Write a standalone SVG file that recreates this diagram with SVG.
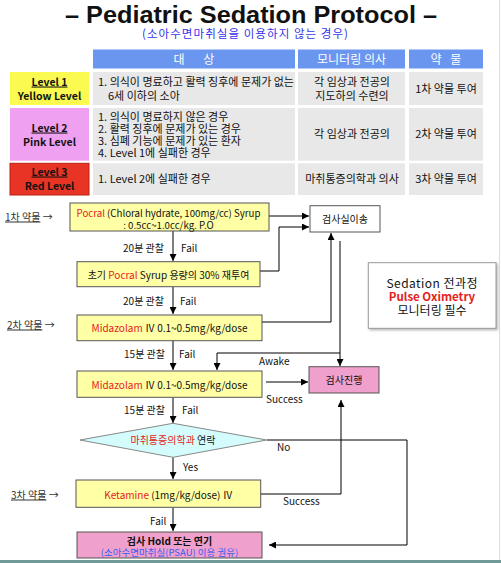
<svg xmlns="http://www.w3.org/2000/svg" width="501" height="563" viewBox="0 0 501 563">
<defs>
<marker id="ah" viewBox="0 0 8 8" refX="8" refY="4" markerWidth="7" markerHeight="7" markerUnits="userSpaceOnUse" orient="auto">
<path d="M0,0 L8,4 L0,8 Z" fill="#000"/>
</marker>
<filter id="sh" x="-5%" y="-5%" width="115%" height="120%">
<feDropShadow dx="1.5" dy="1.5" stdDeviation="1" flood-color="#888" flood-opacity="0.6"/>
</filter>
</defs>
<style>
text{font-family:'Noto Sans CJK KR','Noto Sans',sans-serif;fill:#111;}
.t{font-size:11px;}
.c{text-anchor:middle;}
.hd{font-size:12px;fill:#fff;text-anchor:middle;}
.lv{font-size:10.5px;font-weight:bold;text-anchor:middle;}
.u{text-decoration:underline;}
.cell{fill:#e8e8e8;}
.hdr{fill:#6a96f0;}
.box{fill:#ffffa6;stroke:#555;stroke-width:1;}
.pk{fill:#f0a0cc;stroke:#555;stroke-width:1;}
.lb{font-size:10px;}
.side{font-size:10px;fill:#333;}
.conn path{fill:none;stroke:#000;stroke-width:1;marker-end:url(#ah);}
</style>
<rect x="0" y="0" width="501" height="563" fill="#fff"/>
<line x1="499.5" y1="0" x2="499.5" y2="560" stroke="#dddddd" stroke-width="1"/>
<rect x="0" y="560" width="501" height="3" fill="#6f9a98"/>

<g id="title">
<text x="251" y="22.5" text-anchor="middle" style="font-family:'Liberation Sans',Arial,sans-serif;font-size:24px;font-weight:bold;" textLength="372" lengthAdjust="spacingAndGlyphs">– Pediatric Sedation Protocol –</text>
<text x="245" y="37.5" text-anchor="middle" style="font-size:11.5px;fill:#3434e8;" textLength="206" lengthAdjust="spacing">(소아수면마취실을 이용하지 않는 경우)</text>
</g>

<g id="table">
<rect class="hdr" x="93" y="49.5" width="202" height="19"/>
<rect class="hdr" x="298" y="49.5" width="107" height="19"/>
<rect class="hdr" x="409" y="49.5" width="74" height="19"/>
<text class="hd" x="194" y="63.5" style="word-spacing:16px;">대 상</text>
<text class="hd" x="351.5" y="63.5">모니터링 의사</text>
<text class="hd" x="446" y="63.5" style="word-spacing:6px;">약 물</text>

<g id="level1">
<rect x="10" y="72" width="79" height="33" fill="#fafa50"/>
<text class="lv u" x="49.5" y="85.5">Level 1</text>
<text class="lv" x="49.5" y="99.5">Yellow Level</text>
<rect class="cell" x="93" y="72" width="202" height="33"/>
<text class="t" x="98" y="85.5">1. 의식이 명료하고 활력 징후에 문제가 없는</text>
<text class="t" x="108" y="99.5">6세 이하의 소아</text>
<rect class="cell" x="298" y="72" width="107" height="33"/>
<text class="t c" x="352" y="85.5">각 임상과 전공의</text>
<text class="t c" x="352" y="99.5">지도하의 수련의</text>
<rect class="cell" x="409" y="72" width="74" height="33"/>
<text class="t c" x="446" y="92.5">1차 약물 투여</text>
</g>

<g id="level2">
<rect x="10" y="108" width="79" height="52.7" fill="#f0a0f0"/>
<text class="lv u" x="49.5" y="131.5">Level 2</text>
<text class="lv" x="49.5" y="145.5">Pink Level</text>
<rect class="cell" x="93" y="108" width="202" height="52.7"/>
<text class="t" x="98" y="121">1. 의식이 명료하지 않은 경우</text>
<text class="t" x="98" y="133">2. 활력 징후에 문제가 있는 경우</text>
<text class="t" x="98" y="145">3. 심폐 기능에 문제가 있는 환자</text>
<text class="t" x="98" y="157">4. Level 1에 실패한 경우</text>
<rect class="cell" x="298" y="108" width="107" height="52.7"/>
<text class="t c" x="352" y="138">각 임상과 전공의</text>
<rect class="cell" x="409" y="108" width="74" height="52.7"/>
<text class="t c" x="446" y="138">2차 약물 투여</text>
</g>

<g id="level3">
<rect x="10" y="163.3" width="79" height="31.7" fill="#e83424" stroke="#b82010" stroke-width="1"/>
<text class="lv u" x="49.5" y="175.5">Level 3</text>
<text class="lv" x="49.5" y="189.5">Red Level</text>
<rect class="cell" x="93" y="163.3" width="202" height="31.7"/>
<text class="t" x="98" y="182.5">1. Level 2에 실패한 경우</text>
<rect class="cell" x="298" y="163.3" width="107" height="31.7"/>
<text class="t c" x="352" y="182.5">마취통증의학과 의사</text>
<rect class="cell" x="409" y="163.3" width="74" height="31.7"/>
<text class="t c" x="446" y="182.5">3차 약물 투여</text>
</g>
</g>

<g id="side-labels">
<text class="side" x="5" y="220.5"><tspan class="u">1차 약물</tspan> →</text>
<text class="side" x="7" y="328.5"><tspan class="u">2차 약물</tspan> →</text>
<text class="side" x="11" y="498.5"><tspan class="u">3차 약물</tspan> →</text>
</g>

<g class="conn" id="connectors">
<path d="M173 231 V261"/>
<path d="M269 216 H309"/>
<path d="M260 271 H279 V227 H309"/>
<path d="M173 287 V314"/>
<path d="M262 322 H331 V233"/>
<path d="M340 241 V366"/>
<path d="M340 353 H217 V370"/>
<path d="M173 341 V370"/>
<path d="M266 382 H308"/>
<path d="M173 397.5 V423"/>
<path d="M173 457.5 V479"/>
<path d="M267 440 H407 V545 H269"/>
<path d="M261 494 H341 V400"/>
<path d="M173 507.5 V531"/>
</g>

<g id="conn-labels">
<text class="lb" x="164" y="251.5" text-anchor="end">20분 관찰</text>
<text class="lb" x="181" y="251.5">Fail</text>
<text class="lb" x="164" y="304.5" text-anchor="end">20분 관찰</text>
<text class="lb" x="180" y="304.5">Fail</text>
<text class="lb" x="165" y="357.5" text-anchor="end">15분 관찰</text>
<text class="lb" x="179" y="357.5">Fail</text>
<text class="lb" x="259" y="365">Awake</text>
<text class="lb" x="266" y="402.5">Success</text>
<text class="lb" x="165" y="413.5" text-anchor="end">15분 관찰</text>
<text class="lb" x="182" y="413.5">Fail</text>
<text class="lb" x="277" y="451">No</text>
<text class="lb" x="183" y="471">Yes</text>
<text class="lb" x="283" y="505">Success</text>
<text class="lb" x="150" y="524.5">Fail</text>
</g>

<g id="n-pocral">
<rect class="box" x="70" y="203" width="199" height="28"/>
<text class="c" x="168.5" y="216.5" style="font-size:9.7px;"><tspan fill="#e62020">Pocral</tspan> (Chloral hydrate, 100mg/cc) Syrup</text>
<text class="c" x="168.5" y="228.5" style="font-size:9.7px;">: 0.5cc~1.0cc/kg. P.O</text>
</g>

<g id="n-repeat">
<rect class="box" x="77" y="261.7" width="183" height="25"/>
<text class="lb c" x="168.5" y="278.5">초기 <tspan fill="#e62020">Pocral</tspan> Syrup 용량의 30% 재투여</text>
</g>

<g id="n-transfer">
<rect x="310" y="205.7" width="70" height="26.3" fill="#fff" stroke="#555" stroke-width="1"/>
<text class="lb c" x="345" y="222.5">검사실이송</text>
</g>

<g id="n-note">
<rect x="368.3" y="262.7" width="127.7" height="65.6" fill="#fff" stroke="#999" stroke-width="1" filter="url(#sh)"/>
<text class="c" x="432" y="287.5" style="font-size:12px;" textLength="91" lengthAdjust="spacing">Sedation 전과정</text>
<text class="c" x="432" y="301" style="font-size:11.5px;font-weight:bold;fill:#e62020;">Pulse Oximetry</text>
<text class="c" x="432" y="314.5" style="font-size:12px;">모니터링 필수</text>
</g>

<g id="n-mid1">
<rect class="box" x="77" y="315" width="185" height="25.7"/>
<text class="lb c" x="169.5" y="331.5"><tspan fill="#e62020">Midazolam</tspan> Ⅳ  0.1~0.5mg/kg/dose</text>
</g>

<g id="n-mid2">
<rect class="box" x="77" y="371" width="185" height="26.3"/>
<text class="lb c" x="169.5" y="388.5"><tspan fill="#e62020">Midazolam</tspan> Ⅳ  0.1~0.5mg/kg/dose</text>
</g>

<g id="n-proceed">
<rect class="pk" x="309" y="366.7" width="70" height="26.3"/>
<text class="lb c" x="344" y="383.5">검사진행</text>
</g>

<g id="n-contact">
<polygon points="80,440 173,423.3 266.7,440 173,457.3" fill="#d4fcfc" stroke="#888" stroke-width="1"/>
<text class="lb c" x="173" y="443.5"><tspan fill="#e62020">마취통증의학과</tspan> 연락</text>
</g>

<g id="n-ketamine">
<rect class="box" x="76" y="480" width="184.7" height="27.3"/>
<text class="lb c" x="168.5" y="498.5"><tspan fill="#e62020">Ketamine</tspan> (1mg/kg/dose) Ⅳ</text>
</g>

<g id="n-hold">
<rect class="pk" x="77" y="532" width="185" height="26"/>
<text class="lb c" x="169.5" y="544.5" style="font-weight:bold;">검사 Hold 또는 연기</text>
<text class="c" x="169.5" y="556" style="font-size:9.5px;fill:#3a5ef0;">(소아수면마취실(PSAU) 이용 권유)</text>
</g>
</svg>
